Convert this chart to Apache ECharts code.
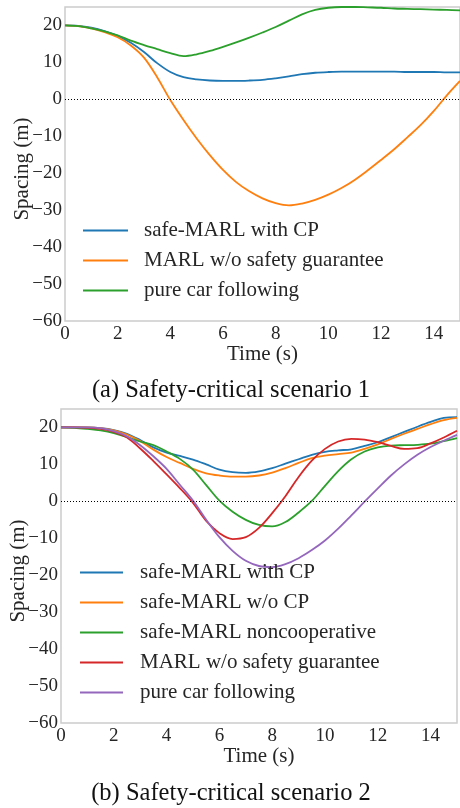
<!DOCTYPE html>
<html>
<head>
<meta charset="utf-8">
<script src="https://cdn.jsdelivr.net/npm/echarts@6/dist/echarts.min.js"></script>
<style>
  html, body { margin: 0; padding: 0; background: #fff; }
  #chart { width: 460px; height: 808px; }
</style>
</head>
<body>
<div id="chart"></div>
<script>
// time axis, seconds
const timeS = [0, 0.5, 1, 1.5, 2, 2.5, 3, 3.5, 4, 4.5, 5, 5.5, 6, 6.5, 7, 7.5,
  8, 8.5, 9, 9.5, 10, 10.5, 11, 11.5, 12, 12.5, 13, 13.5, 14, 14.5, 15]

// scenario 1 spacing (m)
const sc1SafeCP = [20, 19.9, 19.4, 18.5, 17.2, 15.3, 12.8, 9.8, 7.4, 6.0, 5.4, 5.1, 5.0, 5.0, 5.1, 5.3,
  5.7, 6.2, 6.8, 7.2, 7.4, 7.5, 7.5, 7.5, 7.5, 7.5, 7.4, 7.4, 7.4, 7.3, 7.3]
const sc1Marl = [20, 19.8, 19.2, 18.2, 16.8, 14.6, 11.3, 6.0, -0.2, -5.6, -10.6, -15.1, -19.1, -22.4, -24.9, -26.8,
  -28.1, -28.7, -28.2, -27.2, -25.8, -24.0, -21.8, -19.2, -16.4, -13.5, -10.3, -7.0, -3.2, 1.1, 5.0]
const sc1CarFollow = [20, 19.8, 19.2, 18.4, 17.3, 15.9, 14.7, 13.6, 12.5, 11.7, 12.2, 13.1, 14.2, 15.4, 16.7, 18.1,
  19.6, 21.3, 23.0, 24.2, 24.8, 25.0, 25.0, 24.9, 24.8, 24.6, 24.5, 24.4, 24.3, 24.2, 24.1]

// scenario 2 spacing (m)
const sc2SafeCP = [20, 20, 20, 19.8, 19.3, 18.3, 16.6, 14.6, 13.2, 12.3, 11.3, 10.0, 8.6, 7.9, 7.7, 8.1,
  9.0, 10.2, 11.4, 12.6, 13.4, 13.8, 14.1, 15.0, 16.0, 17.4, 18.8, 20.2, 21.5, 22.6, 22.8]
const sc2SafeNoCP = [20, 20, 20, 19.8, 19.2, 18.1, 16.3, 14.0, 12.0, 10.4, 8.8, 7.6, 7.0, 6.7, 6.7, 7.0,
  7.8, 9.0, 10.4, 11.7, 12.4, 12.8, 13.2, 14.2, 15.4, 16.9, 18.3, 19.6, 20.9, 22.0, 22.6]
const sc2NonCoop = [20, 19.9, 19.6, 19.2, 18.5, 17.4, 16.2, 15.2, 13.5, 11.5, 8.6, 4.4, 0.2, -2.8, -5.0, -6.4,
  -6.8, -5.6, -3.0, 0.1, 4.2, 8.2, 11.4, 13.5, 14.6, 15.1, 15.2, 15.3, 15.6, 16.3, 17.1]
const sc2Marl = [20, 20, 19.9, 19.6, 18.8, 17.3, 14.3, 10.9, 7.3, 3.6, -0.4, -5.3, -8.6, -10.2, -9.7, -7.2,
  -3.2, 1.4, 6.6, 11.0, 14.2, 16.2, 16.9, 16.7, 16.0, 15.0, 14.2, 14.4, 15.7, 17.3, 19.1]
const sc2CarFollow = [20, 20, 20, 19.8, 19.0, 17.6, 15.2, 12.2, 8.8, 4.5, 0.2, -5.0, -9.7, -13.4, -16.1, -17.5,
  -17.8, -17.0, -15.4, -13.2, -10.6, -7.4, -3.8, -0.1, 3.5, 7.0, 10.0, 12.6, 14.7, 16.4, 18.0]

const captions = ["(a) Safety-critical scenario 1", "(b) Safety-critical scenario 2"]

const blue = "#1f77b4"
const orange = "#ff7f0e"
const green = "#2ca02c"
const red = "#d62728"
const purple = "#9467bd"

const panels = [
  {
    lines: [
      ["safe-MARL with CP", sc1SafeCP, blue],
      ["MARL w/o safety guarantee", sc1Marl, orange],
      ["pure car following", sc1CarFollow, green],
    ],
  },
  {
    lines: [
      ["safe-MARL with CP", sc2SafeCP, blue],
      ["safe-MARL w/o CP", sc2SafeNoCP, orange],
      ["safe-MARL noncooperative", sc2NonCoop, green],
      ["MARL w/o safety guarantee", sc2Marl, red],
      ["pure car following", sc2CarFollow, purple],
    ],
  },
]

const font = "Liberation Serif"
const ink = "#262626"
const frame = "#cccccc"
const minus = (v) => String(v).replace("-", "\u2212")

const grids = [
  { left: 65, top: 7, width: 395, height: 314 },
  { left: 61, top: 409, width: 396, height: 314 },
]
const legendBox = [
  { left: 83, top: 220, itemWidth: 45, pad: 11 },
  { left: 80, top: 562, itemWidth: 43, pad: 12 },
]
const captionTop = [379, 782]

const option = {
  animation: false,
  textStyle: { fontFamily: font, color: ink },
  title: captions.map((text, i) => ({
    text,
    left: 231,
    top: captionTop[i],
    textAlign: "center",
    padding: 0,
    textStyle: { fontFamily: font, fontSize: 24.5, fontWeight: "normal", color: "#111", lineHeight: 24 },
  })),
  grid: grids.map((g) => ({
    ...g,
    show: true,
    containLabel: false,
    outerBoundsMode: "none",
    borderColor: frame,
    borderWidth: 1.5,
    backgroundColor: "#fff",
  })),
  xAxis: grids.map((g, i) => ({
    type: "value",
    gridIndex: i,
    min: 0,
    max: 15,
    interval: 2,
    name: "Time (s)",
    nameLocation: "middle",
    nameGap: 23,
    nameMoveOverlap: false,
    nameTextStyle: { fontFamily: font, fontSize: 21, color: ink },
    axisLine: { show: false },
    axisTick: { show: false },
    splitLine: { show: false },
    axisLabel: {
      fontFamily: font, fontSize: 19, color: ink, margin: 4,
      showMaxLabel: false, alignMinLabel: "center",
    },
  })),
  yAxis: grids.map((g, i) => ({
    type: "value",
    gridIndex: i,
    min: -60,
    max: 25,
    interval: 10,
    name: "Spacing (m)",
    nameLocation: "middle",
    nameGap: 32,
    nameMoveOverlap: false,
    nameTextStyle: { fontFamily: font, fontSize: 21, color: ink, padding: [0, 10, 0, 0] },
    axisLine: { show: false },
    axisTick: { show: false },
    splitLine: { show: false },
    axisLabel: { fontFamily: font, fontSize: 19, color: ink, margin: 3, showMaxLabel: false, formatter: minus },
  })),
  legend: panels.map((p, i) => ({
    orient: "vertical",
    left: legendBox[i].left,
    top: legendBox[i].top,
    padding: 0,
    icon: "rect",
    itemWidth: legendBox[i].itemWidth,
    itemHeight: 2,
    itemGap: 9,
    selectedMode: false,
    textStyle: { fontFamily: font, fontSize: 21, lineHeight: 21, color: ink, padding: [0, 0, 0, legendBox[i].pad] },
    data: p.lines.map(([name, , color]) => ({ name, itemStyle: { color } })),
  })),
  series: [],
}

panels.forEach((p, i) => {
  p.lines.forEach(([name, values, color], k) => {
    const s = {
      name,
      type: "line",
      xAxisIndex: i,
      yAxisIndex: i,
      showSymbol: false,
      smooth: 0.35,
      data: timeS.map((t, j) => [t, values[j]]),
      lineStyle: { color, width: 1.8 },
      itemStyle: { color },
    }
    if (k === 0) {
      s.markLine = {
        symbol: "none",
        silent: true,
        label: { show: false },
        lineStyle: { color: "#000", width: 1, type: [1, 2] },
        data: [{ yAxis: 0 }],
      }
    }
    option.series.push(s)
  })
})

const chart = echarts.init(document.getElementById("chart"), null, { renderer: "canvas" })
chart.setOption(option)
</script>
</body>
</html>
